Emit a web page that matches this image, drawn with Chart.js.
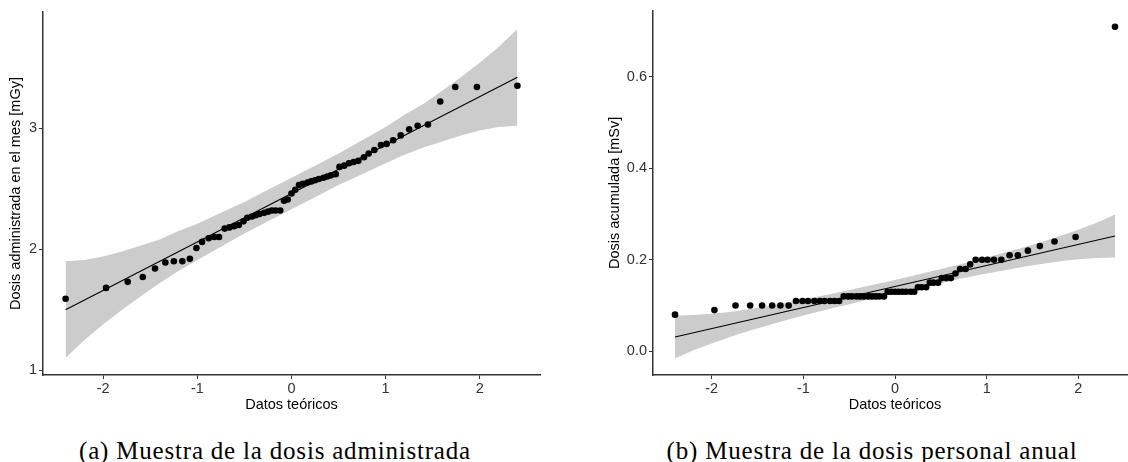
<!DOCTYPE html>
<html lang="es">
<head>
<meta charset="UTF-8">
<title>QQ plots dosis</title>
<script src="https://cdn.jsdelivr.net/npm/chart.js"></script>
<style>
  html, body { margin: 0; padding: 0; background: #fff; }
  body { width: 1128px; height: 462px; position: relative; overflow: hidden; }
  canvas { position: absolute; top: 0; }
  #qqA { left: 0; }
  #qqB { left: 580px; }
  .caption {
    position: absolute;
    top: 438px;
    font-family: "Liberation Serif", serif;
    font-size: 25px;
    letter-spacing: 0.8px;
    line-height: 1;
    color: #000;
    white-space: nowrap;
    transform: translateX(-50%);
  }
</style>
</head>
<body>
<canvas id="qqA" width="560" height="415"></canvas>
<canvas id="qqB" width="570" height="415"></canvas>
<div class="caption" style="left:275px">(a) Muestra de la dosis administrada</div>
<div class="caption" style="left:872px">(b) Muestra de la dosis personal anual</div>
<script>
// theoretical normal quantiles (x of every point, both panels)
const theoQ = [-2.40, -1.97, -1.74, -1.58, -1.45, -1.34, -1.25, -1.16, -1.08, -1.01,
  -0.95, -0.88, -0.82, -0.77, -0.71, -0.66, -0.61, -0.56, -0.51, -0.47,
  -0.42, -0.38, -0.34, -0.29, -0.25, -0.21, -0.17, -0.12, -0.08, -0.04,
  0,
  0.04, 0.08, 0.12, 0.17, 0.21, 0.25, 0.29, 0.34, 0.38, 0.42,
  0.47, 0.51, 0.56, 0.61, 0.66, 0.71, 0.77, 0.82, 0.88, 0.95,
  1.01, 1.08, 1.16, 1.25, 1.34, 1.45, 1.58, 1.74, 1.97, 2.40];

// (a) dosis administrada en el mes [mGy]
const sampleA = [1.59, 1.68, 1.73, 1.77, 1.84, 1.89, 1.90, 1.90, 1.92, 2.01,
  2.06, 2.09, 2.10, 2.10, 2.17, 2.18, 2.19, 2.20, 2.23, 2.26,
  2.27, 2.28, 2.29, 2.30, 2.31, 2.32, 2.32, 2.32, 2.40, 2.41,
  2.46,
  2.49, 2.53, 2.54, 2.55, 2.56, 2.57, 2.58, 2.59, 2.60, 2.61,
  2.62, 2.68, 2.69, 2.71, 2.72, 2.73, 2.76, 2.79, 2.82, 2.86,
  2.87, 2.90, 2.94, 2.99, 3.02, 3.03, 3.22, 3.34, 3.34, 3.35];

// (b) dosis acumulada [mSv]
const sampleB = [0.08, 0.09, 0.10, 0.10, 0.10, 0.10, 0.10, 0.10, 0.11, 0.11,
  0.11, 0.11, 0.11, 0.11, 0.11, 0.11, 0.11, 0.12, 0.12, 0.12,
  0.12, 0.12, 0.12, 0.12, 0.12, 0.12, 0.12, 0.12, 0.13, 0.13,
  0.13,
  0.13, 0.13, 0.13, 0.13, 0.13, 0.14, 0.14, 0.14, 0.15, 0.15,
  0.15, 0.16, 0.16, 0.16, 0.17, 0.18, 0.18, 0.19, 0.20, 0.20,
  0.20, 0.20, 0.20, 0.21, 0.21, 0.22, 0.23, 0.24, 0.25, 0.71];

// reference line ends
const lineZ = [-2.4, 2.4];
const lineA = [1.50, 3.42];
const lineB = [0.031, 0.252];

// confidence band
const bandZ = [-2.4, -2.2, -2.0, -1.8, -1.6, -1.4, -1.2, -1.0, -0.75, -0.5, -0.25, 0,
  0.25, 0.5, 0.75, 1.0, 1.2, 1.4, 1.6, 1.8, 2.0, 2.2, 2.4];
const lowerA = [1.10, 1.25, 1.38, 1.50, 1.61, 1.72, 1.82, 1.91, 2.02, 2.13, 2.23, 2.33,
  2.43, 2.53, 2.62, 2.71, 2.78, 2.84, 2.89, 2.94, 2.98, 3.01, 3.02];
const upperA = [1.90, 1.91, 1.94, 1.98, 2.03, 2.08, 2.15, 2.21, 2.30, 2.39, 2.49, 2.59,
  2.69, 2.79, 2.90, 3.01, 3.11, 3.20, 3.31, 3.42, 3.54, 3.67, 3.82];
const lowerB = [-0.016, 0.002, 0.017, 0.031, 0.044, 0.056, 0.067, 0.078, 0.091, 0.103, 0.115, 0.127,
  0.138, 0.149, 0.160, 0.170, 0.177, 0.185, 0.191, 0.197, 0.201, 0.204, 0.205];
const upperB = [0.078, 0.079, 0.082, 0.086, 0.092, 0.098, 0.106, 0.113, 0.123, 0.134, 0.145, 0.156,
  0.168, 0.180, 0.192, 0.205, 0.216, 0.227, 0.239, 0.252, 0.266, 0.281, 0.299];

// ticks
const xTicks = [-2, -1, 0, 1, 2];
const yTicksA = [1, 2, 3];
const yTicksB = [0.0, 0.2, 0.4, 0.6];

const sans = 'Liberation Sans, Arial, sans-serif';
const fontSize = 14.5;

function xy(xs, ys) {
  return xs.map((x, i) => ({ x: x, y: ys[i] }));
}

function qqChart(id, o) {
  return new Chart(document.getElementById(id), {
    type: 'line',
    data: {
      datasets: [
        { data: xy(theoQ, o.sample), showLine: false, pointRadius: 3.3,
          pointBackgroundColor: '#000', pointBorderWidth: 0 },
        { data: xy(lineZ, o.line), borderColor: '#000', borderWidth: 1.1, pointRadius: 0 },
        { data: xy(bandZ, o.lower), borderWidth: 0, pointRadius: 0, fill: false },
        { data: xy(bandZ, o.upper), borderWidth: 0, pointRadius: 0, fill: '-1',
          backgroundColor: '#cccccc' }
      ]
    },
    options: {
      responsive: false,
      animation: false,
      devicePixelRatio: 1,
      layout: { padding: { top: o.padTop, right: o.padRight, left: 0, bottom: 0 } },
      plugins: { legend: { display: false }, tooltip: { enabled: false } },
      scales: {
        x: {
          type: 'linear', min: -2.64, max: 2.64,
          afterBuildTicks: s => { s.ticks = xTicks.map(v => ({ value: v })); },
          afterFit: s => { s.height = 40; },
          grid: { drawOnChartArea: false, tickLength: 4, color: '#333', lineWidth: 1 },
          border: { display: true, color: '#333', width: 1.5 },
          ticks: { font: { family: sans, size: fontSize }, color: '#333', padding: 1, maxRotation: 0 },
          title: { display: true, text: 'Datos teóricos', color: '#000',
                   font: { family: sans, size: fontSize }, padding: { top: 0, bottom: 1 } }
        },
        y: {
          type: 'linear', min: o.yMin, max: o.yMax,
          afterBuildTicks: s => { s.ticks = o.yTicks.map(v => ({ value: v })); },
          afterFit: s => { s.width = o.yWidth; },
          grid: { drawOnChartArea: false, tickLength: 4, color: '#333', lineWidth: 1 },
          border: { display: true, color: '#333', width: 1.5 },
          ticks: { font: { family: sans, size: fontSize }, color: '#333', padding: 2,
                   callback: o.fmt },
          title: { display: true, text: o.yTitle, color: '#000',
                   font: { family: sans, size: fontSize }, padding: { top: o.titlePad, bottom: 0 } }
        }
      }
    }
  });
}

qqChart('qqA', {
  sample: sampleA, line: lineA, lower: lowerA, upper: upperA,
  yMin: 0.96, yMax: 3.96, yTicks: yTicksA, fmt: v => String(v),
  yTitle: 'Dosis administrada en el mes [mGy]',
  yWidth: 43, titlePad: 7, padTop: 12, padRight: 20
});

qqChart('qqB', {
  sample: sampleB, line: lineB, lower: lowerB, upper: upperB,
  yMin: -0.052, yMax: 0.745, yTicks: yTicksB, fmt: v => v.toFixed(1),
  yTitle: 'Dosis acumulada [mSv]',
  yWidth: 73, titlePad: 26, padTop: 9, padRight: 13
});
</script>
</body>
</html>
